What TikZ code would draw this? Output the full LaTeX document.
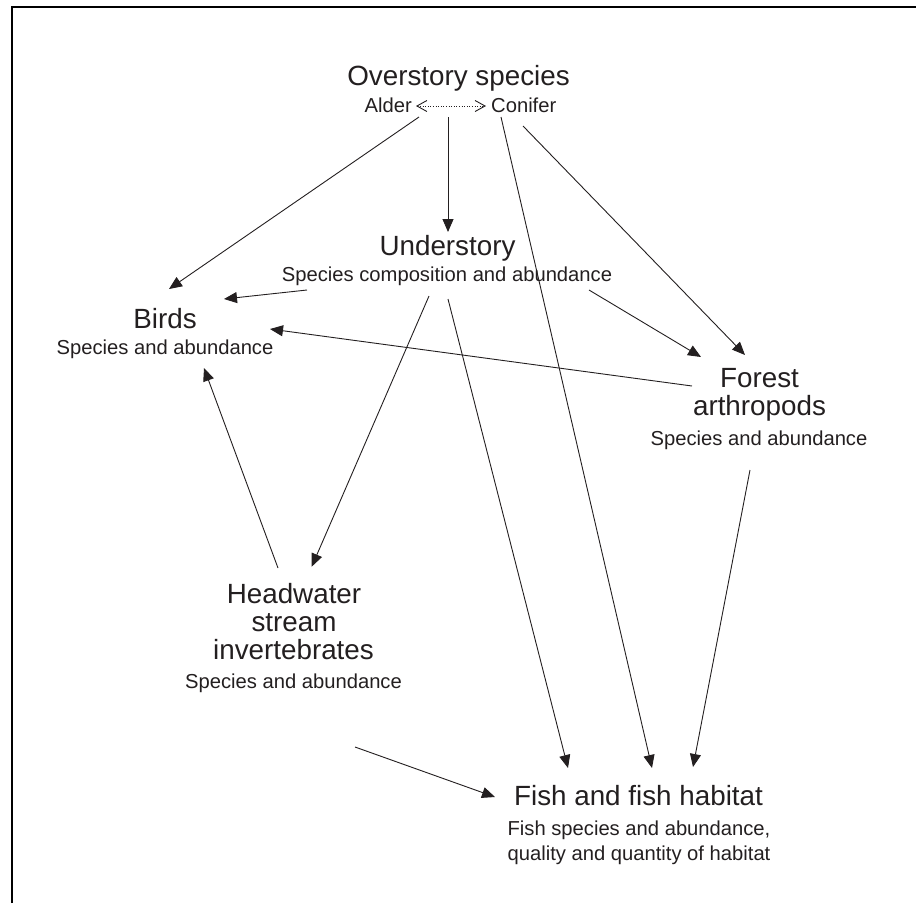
\documentclass[tikz,border=0pt]{standalone}
\usepackage{fontspec}
\setmainfont{Liberation Sans}
\usetikzlibrary{arrows.meta}
\definecolor{ink}{HTML}{231F20}
\begin{document}
\begin{tikzpicture}[x=1pt,y=-1pt,
  ttl/.style={font=\fontsize{27.8}{29}\selectfont, text=ink, inner sep=0pt, anchor=base},
  sub/.style={font=\fontsize{20.2}{24}\selectfont, text=ink, inner sep=0pt, anchor=base},
  link/.style={draw=ink, line width=0.9pt, -{Triangle[length=13pt,width=11pt]}},
  frame/.style={draw=black, line width=2pt},
  swap/.style={draw=ink, line width=0.6pt, dotted,
    {Straight Barb[length=10pt,width=11pt,line width=0.9pt]}-{Straight Barb[length=10pt,width=11pt,line width=0.9pt]}},
]
\useasboundingbox (0,0) rectangle (916,903);
\draw[frame] (11.7,903) -- (11.7,7) -- (916,7);

% Overstory
\node[ttl] (ov) at (458.5,85) {Overstory species};
\node[sub, anchor=base east] (alder) at (412,112) {Alder};
\node[sub, anchor=base west] (conifer) at (491,112) {Conifer};
\coordinate (swA) at (416,106);
\coordinate (swB) at (486,106);
\draw[swap] (swA) -- (swB);

% Understory
\node[ttl] (un) at (447.5,255) {Understory};
\node[sub] (uns) at (447,281) {Species composition and abundance};

% Birds
\node[ttl] (bi) at (165,328) {Birds};
\node[sub] (bis) at (165,354) {Species and abundance};

% Forest arthropods
\node[ttl] (fo1) at (759.5,387) {Forest};
\node[ttl] (fo2) at (759.5,415) {arthropods};
\node[sub] (fos) at (759,445) {Species and abundance};

% Headwater
\node[ttl] (hw1) at (294,603) {Headwater};
\node[ttl] (hw2) at (294,631) {stream};
\node[ttl] (hw3) at (293.5,659) {invertebrates};
\node[sub] (hws) at (293.5,688) {Species and abundance};

% Fish
\node[ttl] (fi) at (638.5,805) {Fish and fish habitat};
\node[sub] (fis1) at (639,835) {Fish species and abundance,};
\node[sub] (fis2) at (639,860) {quality and quantity of habitat};

% connector end points
\coordinate (ovB) at (448,117);  \coordinate (unT) at (448,232);
\coordinate (alB) at (419,117);  \coordinate (biA) at (169,289);
\coordinate (coB1) at (501,117); \coordinate (fiC) at (652,768);
\coordinate (coB2) at (523,126); \coordinate (foA) at (745,355);
\coordinate (unR) at (589,290);  \coordinate (foB) at (701,357);
\coordinate (unL) at (307,290);  \coordinate (biB) at (224,299);
\coordinate (unD1) at (429,296); \coordinate (hwT) at (311.7,566.7);
\coordinate (unD2) at (448,299); \coordinate (fiB) at (568,768);
\coordinate (foL) at (692,386);  \coordinate (biC) at (270,329);
\coordinate (foD) at (750,470);  \coordinate (fiD) at (693,767);
\coordinate (hwU) at (278,568);  \coordinate (biD) at (204,368);
\coordinate (hwD) at (355,747);  \coordinate (fiA) at (495,797);

\draw[link] (ovB) -- (unT);
\draw[link] (alB) -- (biA);
\draw[link] (coB1) -- (fiC);
\draw[link] (coB2) -- (foA);
\draw[link] (unR) -- (foB);
\draw[link] (unL) -- (biB);
\draw[link] (unD1) -- (hwT);
\draw[link] (unD2) -- (fiB);
\draw[link] (foL) -- (biC);
\draw[link] (foD) -- (fiD);
\draw[link] (hwU) -- (biD);
\draw[link] (hwD) -- (fiA);
\end{tikzpicture}
\end{document}
